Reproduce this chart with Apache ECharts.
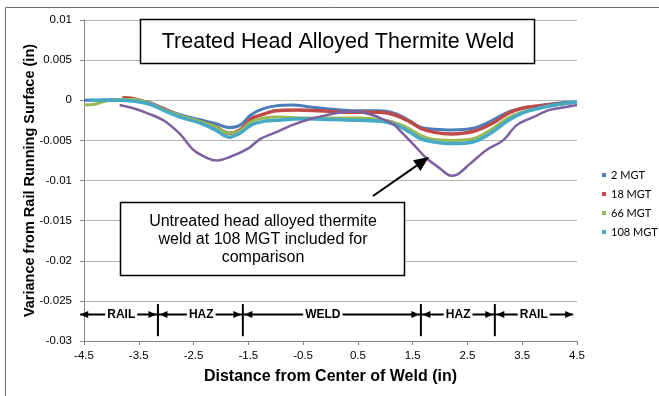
<!DOCTYPE html>
<html>
<head>
<meta charset="utf-8">
<script src="https://cdn.jsdelivr.net/npm/echarts@6/dist/echarts.min.js"></script>
<style>
html,body{margin:0;padding:0;background:#fff;}
#chart{width:659px;height:396px;}
</style>
</head>
<body>
<div id="chart"></div>
<script>
// ---- data ----
const seriesNames = ['2 MGT', '18 MGT', '66 MGT', '108 MGT'];
const untreatedName = 'Untreated 108 MGT';

const x2 = [-4.5,-4.2,-3.9,-3.6,-3.3,-3.0,-2.7,-2.4,-2.1,-1.85,-1.65,-1.45,-1.25,-1.0,-0.7,-0.4,0,0.4,0.9,1.2,1.45,1.65,1.9,2.2,2.6,2.9,3.2,3.5,3.8,4.1,4.5];
const y2 = [0,0,0.0001,0,-0.0003,-0.0012,-0.0019,-0.0024,-0.0029,-0.0034,-0.0031,-0.0018,-0.0011,-0.0007,-0.0006,-0.0008,-0.0011,-0.0013,-0.0013,-0.0017,-0.0026,-0.0034,-0.0036,-0.0037,-0.0035,-0.0027,-0.0016,-0.001,-0.0007,-0.0004,-0.0002];

const x18 = [-3.8,-3.6,-3.3,-3.0,-2.7,-2.4,-2.1,-1.85,-1.65,-1.45,-1.25,-1.0,-0.6,-0.2,0.4,0.9,1.2,1.45,1.65,1.9,2.2,2.6,2.95,3.25,3.5,3.8,4.1,4.4];
const y18 = [0.0003,0.0002,-0.0004,-0.0012,-0.0021,-0.0026,-0.0033,-0.0041,-0.0037,-0.0023,-0.0018,-0.0013,-0.0012,-0.0013,-0.0015,-0.0015,-0.0019,-0.0027,-0.0035,-0.004,-0.0042,-0.0039,-0.0029,-0.0016,-0.001,-0.0007,-0.0005,-0.0003];

const x66 = [-4.5,-4.3,-4.1,-3.9,-3.6,-3.3,-3.0,-2.7,-2.4,-2.1,-1.85,-1.65,-1.45,-1.2,-1.0,-0.5,0,0.5,1.0,1.27,1.45,1.65,1.9,2.2,2.6,2.9,3.25,3.5,3.8,4.1,4.5];
const y66 = [-0.0006,-0.0005,-0.0001,0.0001,0.0001,-0.0004,-0.0013,-0.002,-0.0026,-0.0033,-0.0041,-0.0038,-0.0027,-0.0022,-0.0021,-0.0022,-0.0022,-0.0022,-0.0025,-0.003,-0.0036,-0.0044,-0.0049,-0.005,-0.0048,-0.0038,-0.0022,-0.0015,-0.001,-0.0006,-0.0002];

const x108 = [-4.4,-4.2,-3.9,-3.6,-3.3,-3.0,-2.7,-2.4,-2.1,-1.85,-1.65,-1.45,-1.2,-1.0,-0.5,0,0.5,1.0,1.27,1.45,1.65,1.9,2.2,2.6,2.9,3.25,3.5,3.8,4.1,4.5];
const y108 = [0,0,0,-0.0001,-0.0005,-0.0014,-0.0022,-0.0028,-0.0037,-0.0046,-0.0041,-0.0031,-0.0026,-0.0025,-0.0023,-0.0024,-0.0025,-0.0027,-0.0033,-0.004,-0.0048,-0.0052,-0.0054,-0.0052,-0.0042,-0.0025,-0.0016,-0.001,-0.0006,-0.0002];

const xU = [-3.85,-3.6,-3.35,-3.05,-2.75,-2.5,-2.25,-2.07,-1.85,-1.5,-1.3,-1.0,-0.7,-0.4,-0.1,0.2,0.45,0.75,1.0,1.15,1.3,1.5,1.75,2.0,2.2,2.3,2.55,2.85,3.15,3.4,3.7,4.0,4.25,4.5];
const yU = [-0.0006,-0.001,-0.0016,-0.0025,-0.0042,-0.0062,-0.0072,-0.0075,-0.0071,-0.006,-0.0049,-0.004,-0.0031,-0.0024,-0.0019,-0.0015,-0.0014,-0.0018,-0.0025,-0.003,-0.004,-0.0054,-0.0072,-0.0085,-0.0094,-0.0093,-0.0079,-0.0062,-0.005,-0.0031,-0.0021,-0.0012,-0.0009,-0.0006];

const xTickLabels = [-4.5,-3.5,-2.5,-1.5,-0.5,0.5,1.5,2.5,3.5,4.5];

const zoneBounds = [-3.15, -1.6, 1.65, 3.0];
const zoneEnds = [-4.57, 4.43];
const zoneLabels = ['RAIL', 'HAZ', 'WELD', 'HAZ', 'RAIL'];
const zoneLabelX = [-3.82, -2.36, -0.14, 2.33, 3.71];
const zoneLevel = -0.0267;
const zoneSpan = [-0.0254, -0.0294];

const titleText = 'Treated Head Alloyed Thermite Weld';
const noteLines = ['Untreated head alloyed thermite', 'weld at 108 MGT included for', 'comparison'];

// ---- chart ----
function pairs(xs, ys){ return xs.map((x,i)=>[x, ys[i]]); }
const colors = ['#4A7EBB', '#BE4B48', '#98B954', '#46AAC5', '#7D60A0'];

const chart = echarts.init(document.getElementById('chart'), null, {renderer:'canvas'});

function mkSeries(name, data, color, w){
  return {
    name: name, type: 'line', data: data, smooth: 0.35, showSymbol: false, symbol: 'none',
    lineStyle: {color: color, width: w}, itemStyle: {color: color}, animation: false, z: 3
  };
}

const FF = 'Liberation Sans, Arial, sans-serif';

chart.setOption({
  animation: false,
  textStyle: {fontFamily: FF},
  grid: {left: 84, right: 82, top: 20, bottom: 55, containLabel: false},
  legend: {
    data: seriesNames.map(n => ({name: n, icon: 'rect'})),
    orient: 'vertical', left: 597, top: 164,
    itemWidth: 4, itemHeight: 4, itemGap: 7,
    textStyle: {fontFamily: 'Lato, sans-serif', fontSize: 11, color: '#000', lineHeight: 12}
  },
  xAxis: {
    type: 'value', min: -4.5, max: 4.5,
    name: 'Distance from Center of Weld (in)', nameLocation: 'middle', nameGap: 28,
    nameTextStyle: {fontSize: 16, fontWeight: 'bold', color: '#000', fontFamily: FF},
    axisLine: {onZero: false, lineStyle: {color: '#868686', width: 1}},
    axisTick: {show: true, length: 4, lineStyle: {color: '#868686'}, customValues: xTickLabels},
    axisLabel: {fontSize: 11.5, color: '#000', margin: 9, customValues: xTickLabels,
      formatter: v => String(v)},
    splitLine: {show: false}
  },
  yAxis: {
    type: 'value', min: -0.03, max: 0.01, interval: 0.005,
    name: 'Variance from Rail Running Surface (in)', nameLocation: 'middle', nameGap: 47,
    nameMoveOverlap: false,
    nameTextStyle: {fontSize: 14.5, fontWeight: 'bold', color: '#000', fontFamily: FF},
    axisLine: {show: true, onZero: false, lineStyle: {color: '#868686', width: 1}},
    axisTick: {show: true, length: 4, lineStyle: {color: '#868686'}},
    axisLabel: {fontSize: 11.5, color: '#000', margin: 12,
      formatter: v => String(parseFloat(v.toFixed(4)))},
    splitLine: {show: true, lineStyle: {color: '#B3B3B3', width: 1}}
  },
  series: [
    mkSeries(seriesNames[0], pairs(x2, y2), colors[0], 3),
    mkSeries(seriesNames[1], pairs(x18, y18), colors[1], 3.5),
    mkSeries(seriesNames[2], pairs(x66, y66), colors[2], 3),
    mkSeries(seriesNames[3], pairs(x108, y108), colors[3], 3.5),
    mkSeries(untreatedName, pairs(xU, yU), colors[4], 2.5)
  ]
});

// ---- annotations ----
function P(x, y){ return chart.convertToPixel({gridIndex: 0}, [x, y]); }
const g = [];
// outer border
g.push({type:'rect', shape:{x:5.5, y:7.5, width:800, height:500}, style:{fill:'none', stroke:'#6e6e6e', lineWidth:1}, z:1, silent:true});
// title box
g.push({type:'rect', shape:{x:140.5, y:19.5, width:394, height:44}, style:{fill:'#fff', stroke:'#000', lineWidth:1.5}, z:10});
g.push({type:'text', x:338, y:42, style:{text:titleText, font:'21.5px "Liberation Sans", Arial, sans-serif', fill:'#000', align:'center', verticalAlign:'middle'}, z:11});
// note box
g.push({type:'rect', shape:{x:120.5, y:202.5, width:284, height:73}, style:{fill:'#fff', stroke:'#000', lineWidth:1.5}, z:10});
noteLines.forEach((t, i) => {
  g.push({type:'text', x:263, y:222 + i*18, style:{text:t, font:'16px "Liberation Sans", Arial, sans-serif', fill:'#000', align:'center', verticalAlign:'middle'}, z:11});
});
// note arrow
(function(){
  const x1 = 373, y1 = 196, x2a = 429, y2a = 157;
  const dx = x2a - x1, dy = y2a - y1, L = Math.hypot(dx, dy);
  const ux = dx / L, uy = dy / L, hl = 15, hw = 6.5;
  const bx = x2a - ux*hl, by = y2a - uy*hl;
  g.push({type:'line', shape:{x1:x1, y1:y1, x2:bx, y2:by}, style:{stroke:'#000', lineWidth:2}, z:12});
  g.push({type:'polygon', shape:{points:[[x2a,y2a],[bx - uy*hw, by + ux*hw],[bx + uy*hw, by - ux*hw]]}, style:{fill:'#000'}, z:12});
})();
// zone markers
(function(){
  const yl = P(0, zoneLevel)[1];
  const yt = P(0, zoneSpan[0])[1], yb = P(0, zoneSpan[1])[1];
  const xl = P(zoneEnds[0], 0)[0], xr = P(zoneEnds[1], 0)[0];
  g.push({type:'line', shape:{x1:xl, y1:yl, x2:xr, y2:yl}, style:{stroke:'#000', lineWidth:2}, z:12});
  function head(xt, dir){ // dir: -1 points left, +1 points right
    g.push({type:'polygon', shape:{points:[[xt, yl],[xt - dir*8, yl - 3.5],[xt - dir*8, yl + 3.5]]}, style:{fill:'#000'}, z:13});
  }
  head(xl, -1); head(xr, 1);
  zoneBounds.forEach(b => {
    const xb = P(b, 0)[0];
    g.push({type:'line', shape:{x1:xb, y1:yt, x2:xb, y2:yb}, style:{stroke:'#000', lineWidth:2}, z:13});
    head(xb - 1.5, 1); head(xb + 1.5, -1);
  });
  zoneLabels.forEach((t, i) => {
    const xc = P(zoneLabelX[i], 0)[0];
    g.push({type:'text', x:xc, y:yl, style:{text:t, font:'bold 12px "Liberation Sans", Arial, sans-serif', fill:'#000', align:'center', verticalAlign:'middle', backgroundColor:'#fff', padding:[0,2,0,2]}, z:14});
  });
})();
chart.setOption({graphic: {elements: g}});
</script>
</body>
</html>
